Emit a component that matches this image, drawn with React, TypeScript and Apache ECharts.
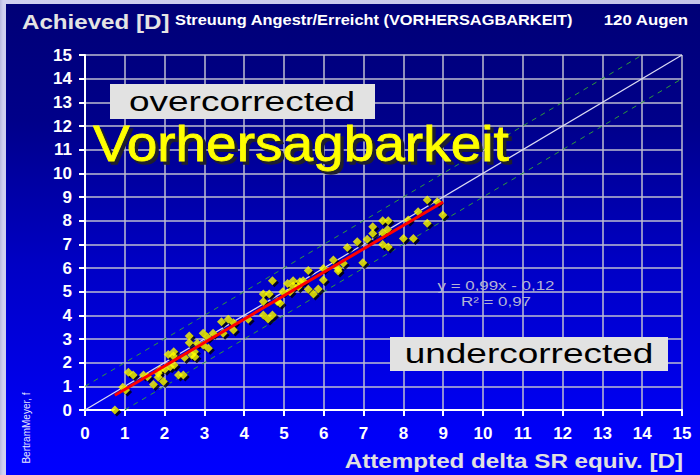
import React, { useEffect, useRef } from "react";
import * as echarts from "echarts";

// Attempted (x) and achieved (y) correction in dioptres
const attempted = [
  0.75, 0.95, 1.02, 1.09, 1.21, 1.47, 1.57, 1.72, 1.84, 1.84, 1.97, 1.88, 2.09, 2.23, 2.22,
  2.01, 2.14, 2.24, 2.35, 2.47, 2.5, 2.62, 2.62, 2.68, 2.76, 2.75, 2.82, 2.97, 2.97, 3.1,
  3.08, 3.22, 3.43, 3.6, 3.73, 3.73, 3.47, 4.1, 4.48, 4.6, 4.71, 4.48, 4.63, 4.48, 4.71,
  4.83, 4.9, 4.97, 5.09, 5.23, 5.23, 5.36, 5.4, 5.48, 5.61, 5.61, 5.74, 5.86, 5.99, 5.99,
  5.15, 6.24, 6.36, 6.36, 6.49, 6.59, 6.84, 6.98, 7.09, 7.23, 7.23, 7.48, 7.62, 7.48, 7.6,
  7.48, 7.62, 8.0, 8.25, 8.12, 8.37, 8.6, 8.6, 8.85, 8.99,
];
const achieved = [
  0.0, 0.96, 0.85, 1.59, 1.48, 1.48, 1.41, 1.08, 1.55, 1.38, 1.2, 1.69, 2.35, 2.46, 2.28,
  1.72, 1.83, 1.9, 1.48, 1.48, 2.22, 3.13, 2.84, 2.32, 2.25, 2.46, 2.82, 3.24, 2.75, 2.61,
  3.07, 3.24, 3.73, 3.83, 3.69, 3.38, 3.24, 3.83, 4.01, 3.84, 4.01, 4.9, 4.9, 4.58, 5.46,
  4.58, 4.51, 5.0, 5.35, 5.46, 5.24, 5.21, 5.42, 5.46, 5.89, 5.1, 4.9, 5.11, 5.98, 5.49,
  5.0, 6.34, 5.98, 5.87, 6.2, 6.87, 7.11, 6.22, 7.22, 7.74, 7.46, 8.0, 8.0, 7.49, 7.63,
  6.99, 6.89, 7.25, 7.25, 8.03, 8.38, 8.87, 7.89, 8.8, 8.24,
];

// Axis range and regression
const axisMin = 0;
const axisMax = 15;
const axisStep = 1;
const fitSlope = 0.99;
const fitIntercept = -0.12;
const fitFrom = 0.75;
const fitTo = 9.0;
const bandWidth = 1;

const titleY = "Achieved [D]";
const titleMain = "Streuung Angestr/Erreicht (VORHERSAGBARKEIT)";
const titleCount = "120 Augen";
const titleX = "Attempted delta SR equiv. [D]";
const labelOver = "overcorrected";
const labelUnder = "undercorrected";
const labelBig = "Vorhersagbarkeit";
const eqLine1 = "y = 0,99x - 0,12";
const eqLine2 = "R² = 0,97";
const author = "BertramMeyer, f";

const FONT = "'Liberation Sans', Arial, sans-serif";

export default function App() {
  const ref = useRef<HTMLDivElement>(null);

  useEffect(() => {
    if (!ref.current) return;
    const chart = echarts.init(ref.current, null, { renderer: "svg" });

    const points = attempted.map((x, i) => [x, achieved[i]]);
    const fitLine = [
      [fitFrom, fitSlope * fitFrom + fitIntercept],
      [fitTo, fitSlope * fitTo + fitIntercept],
    ];
    const diag = [
      [axisMin, axisMin],
      [axisMax, axisMax],
    ];
    const upperBand = [
      [axisMin, axisMin + bandWidth],
      [axisMax - bandWidth, axisMax],
    ];
    const lowerBand = [
      [axisMin + bandWidth, axisMin],
      [axisMax, axisMax - bandWidth],
    ];

    const axisCommon = {
      type: "value" as const,
      min: axisMin,
      max: axisMax,
      interval: axisStep,
      axisLine: { show: true, onZero: false, lineStyle: { color: "#ffffff", width: 2 } },
      axisTick: { show: true, length: 6, lineStyle: { color: "#ffffff", width: 2 } },
      splitLine: { show: true, lineStyle: { color: "#bcbcd0", width: 1.5 } },
      axisLabel: {
        color: "#ffffff",
        fontFamily: FONT,
        fontWeight: "bold" as const,
        fontSize: 17,
      },
    };

    const textEl = (
      x: number,
      y: number,
      text: string,
      font: string,
      fill: string,
      align: string,
      scaleX: number,
      z = 50
    ) => ({
      type: "text",
      x,
      y,
      scaleX,
      z,
      silent: true,
      style: { text, fill, font, textAlign: align, textVerticalAlign: "middle" },
    });

    chart.setOption({
      animation: false,
      backgroundColor: "transparent",
      grid: { left: 85, right: 18, top: 55, bottom: 65, containLabel: false },
      xAxis: { ...axisCommon, axisLabel: { ...axisCommon.axisLabel, margin: 15 } },
      yAxis: { ...axisCommon, axisLabel: { ...axisCommon.axisLabel, margin: 13 } },
      series: [
        {
          type: "line",
          data: upperBand,
          symbol: "none",
          lineStyle: { color: "#2f9a3a", width: 1, type: [5, 5] },
          z: 2,
        },
        {
          type: "line",
          data: lowerBand,
          symbol: "none",
          lineStyle: { color: "#2f9a3a", width: 1, type: [5, 5] },
          z: 2,
        },
        {
          type: "line",
          data: diag,
          symbol: "none",
          lineStyle: { color: "#dcdcf4", width: 1.2 },
          z: 3,
        },
        {
          type: "scatter",
          data: points,
          symbol: "diamond",
          symbolSize: 9,
          symbolOffset: [2, 2],
          itemStyle: { color: "#000000" },
          silent: true,
          z: 4,
        },
        {
          type: "scatter",
          data: points,
          symbol: "diamond",
          symbolSize: 9,
          itemStyle: { color: "#ffff00" },
          z: 5,
        },
        {
          type: "line",
          data: fitLine,
          symbol: "none",
          lineStyle: { color: "#ff0000", width: 3 },
          z: 6,
        },
      ],
      graphic: [
        textEl(22, 22, titleY, `bold 21px ${FONT}`, "#e4e4e4", "left", 1.15),
        textEl(175, 20, titleMain, `bold 14px ${FONT}`, "#ffffff", "left", 1.17),
        textEl(688, 20, titleCount, `bold 14px ${FONT}`, "#ffffff", "right", 1.2),
        {
          type: "rect",
          shape: { x: 110, y: 84, width: 265, height: 35 },
          style: { fill: "#e2e2e2" },
          z: 50,
        },
        textEl(242, 102, labelOver, `27px ${FONT}`, "#000000", "center", 1.37, 51),
        {
          type: "rect",
          shape: { x: 390, y: 337, width: 278, height: 34 },
          style: { fill: "#e2e2e2" },
          z: 50,
        },
        textEl(529, 354, labelUnder, `27px ${FONT}`, "#000000", "center", 1.37, 51),
        {
          type: "text",
          x: 96,
          y: 146,
          scaleX: 1.1,
          z: 52,
          silent: true,
          style: {
            text: labelBig,
            fill: "#20202c",
            stroke: "#20202c",
            lineWidth: 1.5,
            font: `50px ${FONT}`,
            textAlign: "left",
            textVerticalAlign: "middle",
          },
        },
        {
          type: "text",
          x: 93,
          y: 143,
          scaleX: 1.1,
          z: 53,
          silent: true,
          style: {
            text: labelBig,
            fill: "#ffff00",
            stroke: "#ffff00",
            lineWidth: 0.8,
            font: `50px ${FONT}`,
            textAlign: "left",
            textVerticalAlign: "middle",
          },
        },
        textEl(496, 285, eqLine1, `13px ${FONT}`, "#b4b4d4", "center", 1.3),
        textEl(496, 301, eqLine2, `13px ${FONT}`, "#b4b4d4", "center", 1.3),
        textEl(683, 461, titleX, `bold 20px ${FONT}`, "#e0e0e0", "right", 1.21),
        {
          type: "text",
          x: 26,
          y: 428,
          rotation: Math.PI / 2,
          z: 50,
          silent: true,
          style: {
            text: author,
            fill: "#e8e8ff",
            font: `10px ${FONT}`,
            textAlign: "center",
            textVerticalAlign: "middle",
          },
        },
      ],
    });

    return () => chart.dispose();
  }, []);

  return (
    <div
      style={{
        position: "fixed",
        left: 0,
        top: 0,
        width: 700,
        height: 475,
        background: "linear-gradient(to right, #b8b8e0, #d0d0f0 3px, #c4c4e8)",
        overflow: "hidden",
      }}
    >
      <div
        style={{
          position: "absolute",
          left: 6,
          top: 4,
          right: 0,
          bottom: 0,
          background:
            "linear-gradient(to bottom, #000076 0%, #00008a 25%, #0000c4 55%, #0000f6 90%, #0000ff 100%)",
        }}
      />
      <div
        ref={ref}
        style={{ position: "absolute", left: 0, top: 0, width: 700, height: 475 }}
      />
    </div>
  );
}
